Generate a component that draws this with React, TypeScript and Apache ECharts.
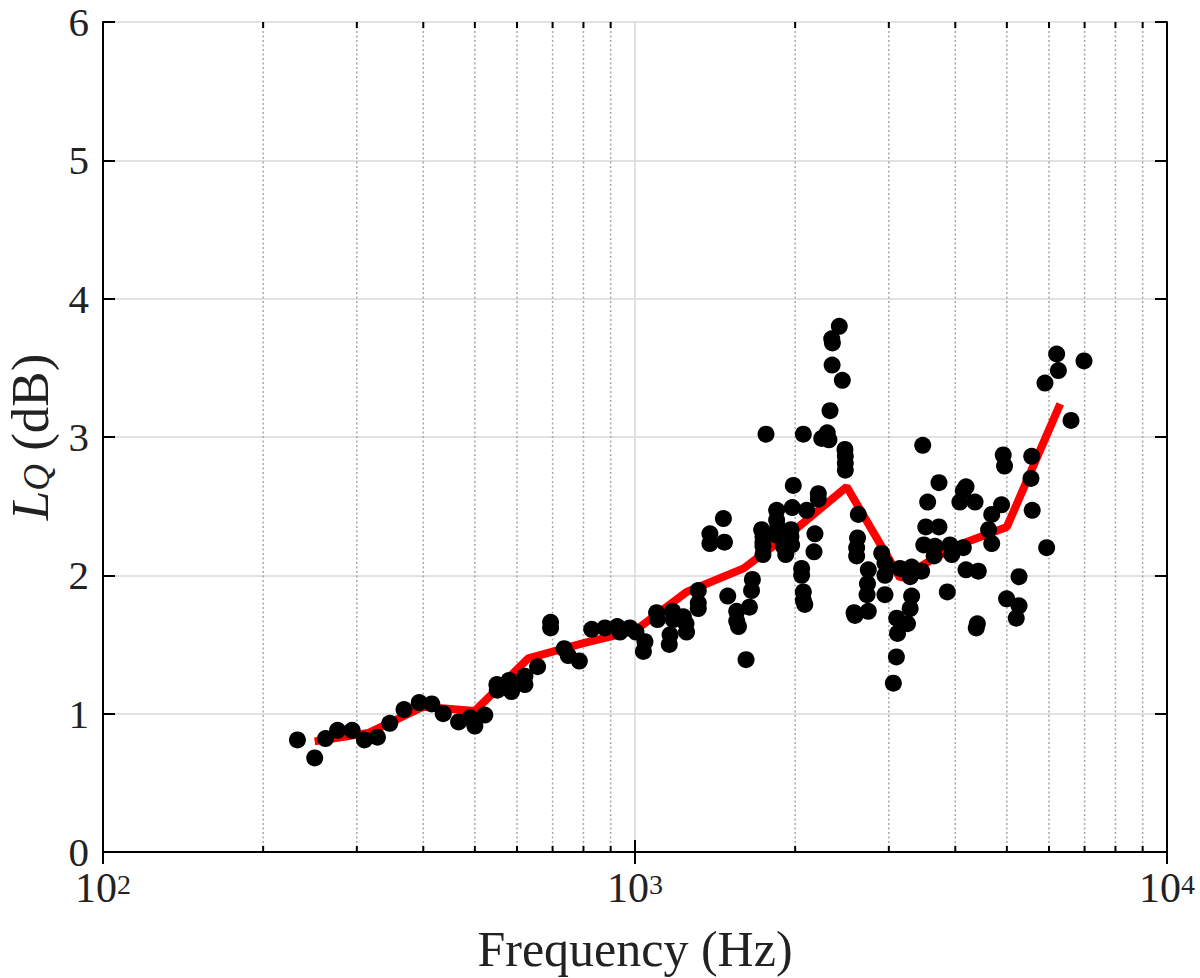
import React, { useEffect, useRef } from "react";
import * as echarts from "echarts";

// ---- data ----
const BAND_FREQ = [250, 315, 400, 500, 630, 800, 1000, 1250, 1600, 2000, 2500, 3150, 4000, 5000, 6300];
const BAND_LQ = [0.8, 0.86, 1.05, 1.02, 1.4, 1.51, 1.6, 1.88, 2.05, 2.33, 2.64, 1.98, 2.21, 2.35, 3.24];

const POINT_FREQ = [
  232, 250, 262, 276, 294, 310, 328, 346, 368, 393, 415, 436, 466, 490, 500, 522, 550, 551, 580, 586,
  621, 621, 656, 694, 694, 736, 749, 786, 829, 878, 926, 937, 978, 1004, 1044, 1037, 1098, 1102, 1164, 1160,
  1177, 1180, 1233, 1247, 1250, 1315, 1315, 1315, 1383, 1383, 1466, 1473, 1494, 1553, 1553, 1565, 1617, 1641, 1656, 1662,
  1730, 1740, 1740, 1740, 1740, 1763, 1846, 1846, 1855, 1846, 1887, 1900, 1920, 1964, 1964, 1970, 1984, 1975, 2057, 2057,
  2072, 2072, 2085, 2072, 2102, 2179, 2170, 2211, 2211, 2244, 2298, 2315, 2326, 2343, 2350, 2347, 2421, 2453, 2481, 2485,
  2485, 2485, 2629, 2620, 2610, 2610, 2581, 2591, 2745, 2735, 2730, 2745, 2909, 2950, 2950, 2950, 3148, 3104, 3115, 3100,
  3059, 3311, 3290, 3458, 3311, 3290, 3252, 3474, 3727, 3549, 3520, 3727, 3490, 3664, 3650, 3909, 3940, 4141, 4141, 4080,
  4190, 3864, 4190, 4357, 4419, 4400, 4380, 4922, 4950, 4887, 4683, 4620, 4683, 5271, 4995, 5271, 5208, 5568, 5550, 5580,
  5940, 5897, 6203, 6250, 6982, 6600,
];
const POINT_LQ = [
  0.81, 0.68, 0.82, 0.88, 0.88, 0.81, 0.83, 0.93, 1.03, 1.08, 1.07, 1.0, 0.94, 0.97, 0.91, 0.99, 1.21, 1.17, 1.24, 1.16,
  1.27, 1.21, 1.34, 1.66, 1.62, 1.47, 1.42, 1.38, 1.61, 1.62, 1.63, 1.59, 1.62, 1.59, 1.52, 1.45, 1.73, 1.68, 1.57, 1.5,
  1.74, 1.68, 1.7, 1.65, 1.59, 1.89, 1.8, 1.76, 2.3, 2.23, 2.41, 2.24, 1.85, 1.74, 1.67, 1.63, 1.39, 1.77, 1.89, 1.97,
  2.33, 2.24, 2.15, 2.28, 2.21, 3.02, 2.47, 2.4, 2.35, 2.29, 2.27, 2.21, 2.15, 2.33, 2.28, 2.22, 2.65, 2.49, 2.05, 2.0,
  1.88, 1.82, 1.79, 3.02, 2.47, 2.3, 2.17, 2.59, 2.55, 2.99, 3.03, 2.98, 3.19, 3.71, 3.68, 3.52, 3.8, 3.41, 2.91, 2.86,
  2.81, 2.76, 2.44, 2.27, 2.2, 2.14, 1.73, 1.71, 2.04, 1.94, 1.86, 1.74, 2.16, 2.09, 2.0, 1.86, 2.05, 1.69, 1.58, 1.41,
  1.22, 2.06, 1.99, 2.03, 1.85, 1.76, 1.65, 2.94, 2.67, 2.53, 2.35, 2.35, 2.22, 2.21, 2.14, 2.22, 2.15, 2.2, 2.61, 2.53,
  2.04, 1.88, 2.64, 2.53, 2.03, 1.65, 1.62, 2.87, 2.79, 2.51, 2.44, 2.33, 2.23, 1.99, 1.83, 1.78, 1.69, 2.86, 2.7, 2.47,
  2.2, 3.39, 3.6, 3.48, 3.55, 3.12,
];

const MINOR_TICKS = [200, 300, 400, 500, 600, 700, 800, 900, 2000, 3000, 4000, 5000, 6000, 7000, 8000, 9000];
const Y_MIN = 0;
const Y_MAX = 6;

const FONT = "'Liberation Serif', 'DejaVu Serif', serif";
const TEXT = "#222222";

export default function App() {
  const ref = useRef<HTMLDivElement>(null);

  useEffect(() => {
    if (!ref.current) return;
    const chart = echarts.init(ref.current, undefined, { renderer: "svg" });

    const points = POINT_FREQ.map((f, i) => [f, POINT_LQ[i]]);
    const band = BAND_FREQ.map((f, i) => [f, BAND_LQ[i]]);
    const minor = MINOR_TICKS.map((f) => [f, Y_MIN]);

    const axisLine = { show: true, lineStyle: { color: "#000", width: 2 } };
    const majorTick = { show: true, inside: true, length: 12, lineStyle: { color: "#000", width: 2 } };

    const option: any = {
      animation: false,
      backgroundColor: "#fff",
      grid: { left: 103, right: 33, top: 22, bottom: 126, containLabel: false, outerBoundsMode: "none" },
      xAxis: [
        {
          type: "log",
          logBase: 10,
          min: 100,
          max: 10000,
          position: "bottom",
          axisLine,
          axisTick: majorTick,
          minorTick: { show: false },
          splitLine: { show: true, lineStyle: { color: "#d8d8d8", width: 1.5 } },
          axisLabel: {
            margin: 18,
            formatter: (v: number) => `{b|10}{s|${Math.round(Math.log10(v))}}`,
            rich: {
              b: { fontFamily: FONT, fontSize: 42, lineHeight: 36, color: TEXT },
              s: { fontFamily: FONT, fontSize: 28, lineHeight: 22, color: TEXT, verticalAlign: "top" },
            },
          },
          name: "Frequency (Hz)",
          nameLocation: "middle",
          nameGap: 72,
          nameTextStyle: { fontFamily: FONT, fontSize: 50, color: TEXT },
        },
        {
          type: "log",
          logBase: 10,
          min: 100,
          max: 10000,
          position: "top",
          axisLine,
          axisTick: majorTick,
          axisLabel: { show: false },
          splitLine: { show: false },
        },
      ],
      yAxis: [
        {
          type: "value",
          min: Y_MIN,
          max: Y_MAX,
          interval: 1,
          position: "left",
          axisLine,
          axisTick: majorTick,
          splitLine: { show: true, lineStyle: { color: "#d8d8d8", width: 1.5 } },
          axisLabel: { margin: 14, fontFamily: FONT, fontSize: 41, lineHeight: 34, color: TEXT },
          name: "{i|L}{s|Q}{n| (dB)}",
          nameLocation: "middle",
          nameGap: 48,
          nameRotate: 90,
          nameTextStyle: {
            rich: {
              i: { fontFamily: FONT, fontStyle: "italic", fontSize: 53, lineHeight: 50, color: TEXT },
              s: { fontFamily: FONT, fontStyle: "italic", fontSize: 37, lineHeight: 34, color: TEXT, verticalAlign: "bottom" },
              n: { fontFamily: FONT, fontSize: 53, lineHeight: 50, color: TEXT },
            },
          },
        },
        {
          type: "value",
          min: Y_MIN,
          max: Y_MAX,
          interval: 1,
          position: "right",
          axisLine,
          axisTick: majorTick,
          axisLabel: { show: false },
          splitLine: { show: false },
        },
      ],
      series: [
        {
          type: "custom",
          name: "minor",
          xAxisIndex: 0,
          yAxisIndex: 0,
          silent: true,
          z: 1,
          clip: false,
          data: minor,
          encode: { x: 0, y: 1 },
          renderItem: (params: any, api: any) => {
            const v = api.value(0);
            const b = api.coord([v, Y_MIN]);
            const t = api.coord([v, Y_MAX]);
            return {
              type: "group",
              children: [
                {
                  type: "line",
                  shape: { x1: b[0], y1: b[1], x2: t[0], y2: t[1] },
                  style: { stroke: "#a8a8a8", lineWidth: 1.5, lineDash: [2, 2.5] },
                },
                {
                  type: "line",
                  shape: { x1: b[0], y1: b[1], x2: b[0], y2: b[1] - 6 },
                  style: { stroke: "#000", lineWidth: 2 },
                },
                {
                  type: "line",
                  shape: { x1: t[0], y1: t[1], x2: t[0], y2: t[1] + 6 },
                  style: { stroke: "#000", lineWidth: 2 },
                },
              ],
            };
          },
        },
        {
          type: "line",
          name: "band",
          data: band,
          symbol: "none",
          z: 3,
          lineStyle: { color: "#ff0000", width: 8 },
        },
        {
          type: "scatter",
          name: "points",
          data: points,
          symbol: "circle",
          symbolSize: 17,
          z: 4,
          itemStyle: { color: "#000", opacity: 1 },
        },
      ],
    };

    chart.setOption(option);
    return () => chart.dispose();
  }, []);

  return (
    <div
      ref={ref}
      style={{ position: "absolute", left: 0, top: 0, width: 1200, height: 978, background: "#fff" }}
    />
  );
}
